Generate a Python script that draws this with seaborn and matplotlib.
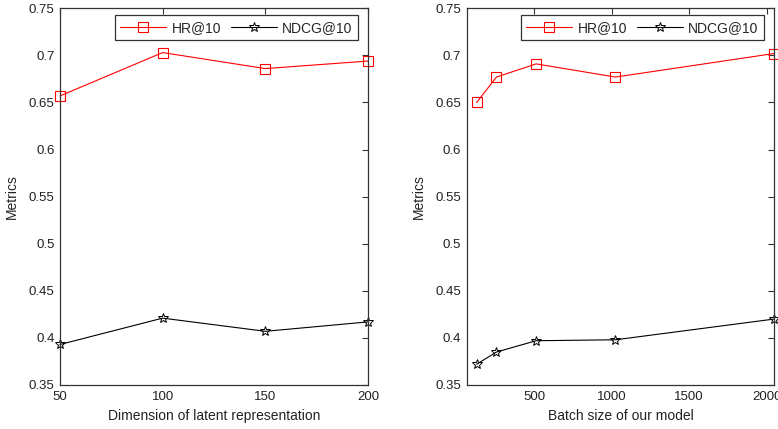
import numpy as np
import pandas as pd
import matplotlib as mpl
mpl.use("Agg")
import matplotlib.pyplot as plt
import seaborn as sns
from matplotlib.ticker import FuncFormatter

# Data
dims = [50, 100, 150, 200]
dims_hr = [0.657, 0.703, 0.686, 0.694]
dims_ndcg = [0.393, 0.421, 0.407, 0.417]

batch = [128, 256, 512, 1024, 2048]
batch_hr = [0.650, 0.677, 0.691, 0.677, 0.702]
batch_ndcg = [0.372, 0.385, 0.397, 0.398, 0.420]

y_ticks = [0.35, 0.4, 0.45, 0.5, 0.55, 0.6, 0.65, 0.7, 0.75]
dim_ticks = [50, 100, 150, 200]
batch_ticks = [500, 1000, 1500, 2000]

sns.set_style("white")
plt.rcParams["font.family"] = ["Liberation Sans", "DejaVu Sans"]
plt.rcParams["font.size"] = 9

EDGE = "#333333"


def draw_panel(ax, x, hr, ndcg, xlabel, xlim, xticks):
    sns.lineplot(x=x, y=hr, ax=ax, color="red", marker="s", markersize=7,
                 mfc="none", mec="red", mew=0.8, linewidth=0.8,
                 label="HR@10", clip_on=False)
    sns.lineplot(x=x, y=ndcg, ax=ax, color="black", marker="*", markersize=7.5,
                 mfc="none", mec="black", mew=0.7, linewidth=0.8,
                 label="NDCG@10", clip_on=False)
    ax.set_xlim(*xlim)
    ax.set_ylim(0.35, 0.75)
    ax.set_xticks(xticks)
    ax.set_yticks(y_ticks)
    ax.yaxis.set_major_formatter(FuncFormatter(lambda v, p: "%g" % v))
    ax.tick_params(direction="in", top=True, right=True, length=4, width=0.8,
                   color=EDGE, labelsize=9.5, pad=4, labelcolor="#222222")
    for s in ax.spines.values():
        s.set_color(EDGE)
        s.set_linewidth(0.9)
    ax.set_xlabel(xlabel, fontsize=10, labelpad=5, color="#222222")
    ax.set_ylabel("Metrics", fontsize=10, labelpad=7, color="#222222")
    leg = ax.legend(loc="upper right", bbox_to_anchor=(0.968, 0.982),
                    borderaxespad=0, ncol=2, fontsize=10, fancybox=False,
                    framealpha=1, edgecolor=EDGE, handlelength=3.3,
                    columnspacing=0.7, handletextpad=0.4, borderpad=0.4)
    leg.get_frame().set_linewidth(0.9)


fig = plt.figure(figsize=(7.78, 4.29), dpi=100)
ax1 = fig.add_axes([0.0771, 0.1026, 0.3959, 0.878])
ax2 = fig.add_axes([0.5999, 0.1026, 0.3950, 0.878])

draw_panel(ax1, dims, dims_hr, dims_ndcg, "Dimension of latent representation",
           (50, 200), dim_ticks)
draw_panel(ax2, batch, batch_hr, batch_ndcg, "Batch size of our model",
           (64, 2048), batch_ticks)

fig.savefig("out.png", dpi=100)
